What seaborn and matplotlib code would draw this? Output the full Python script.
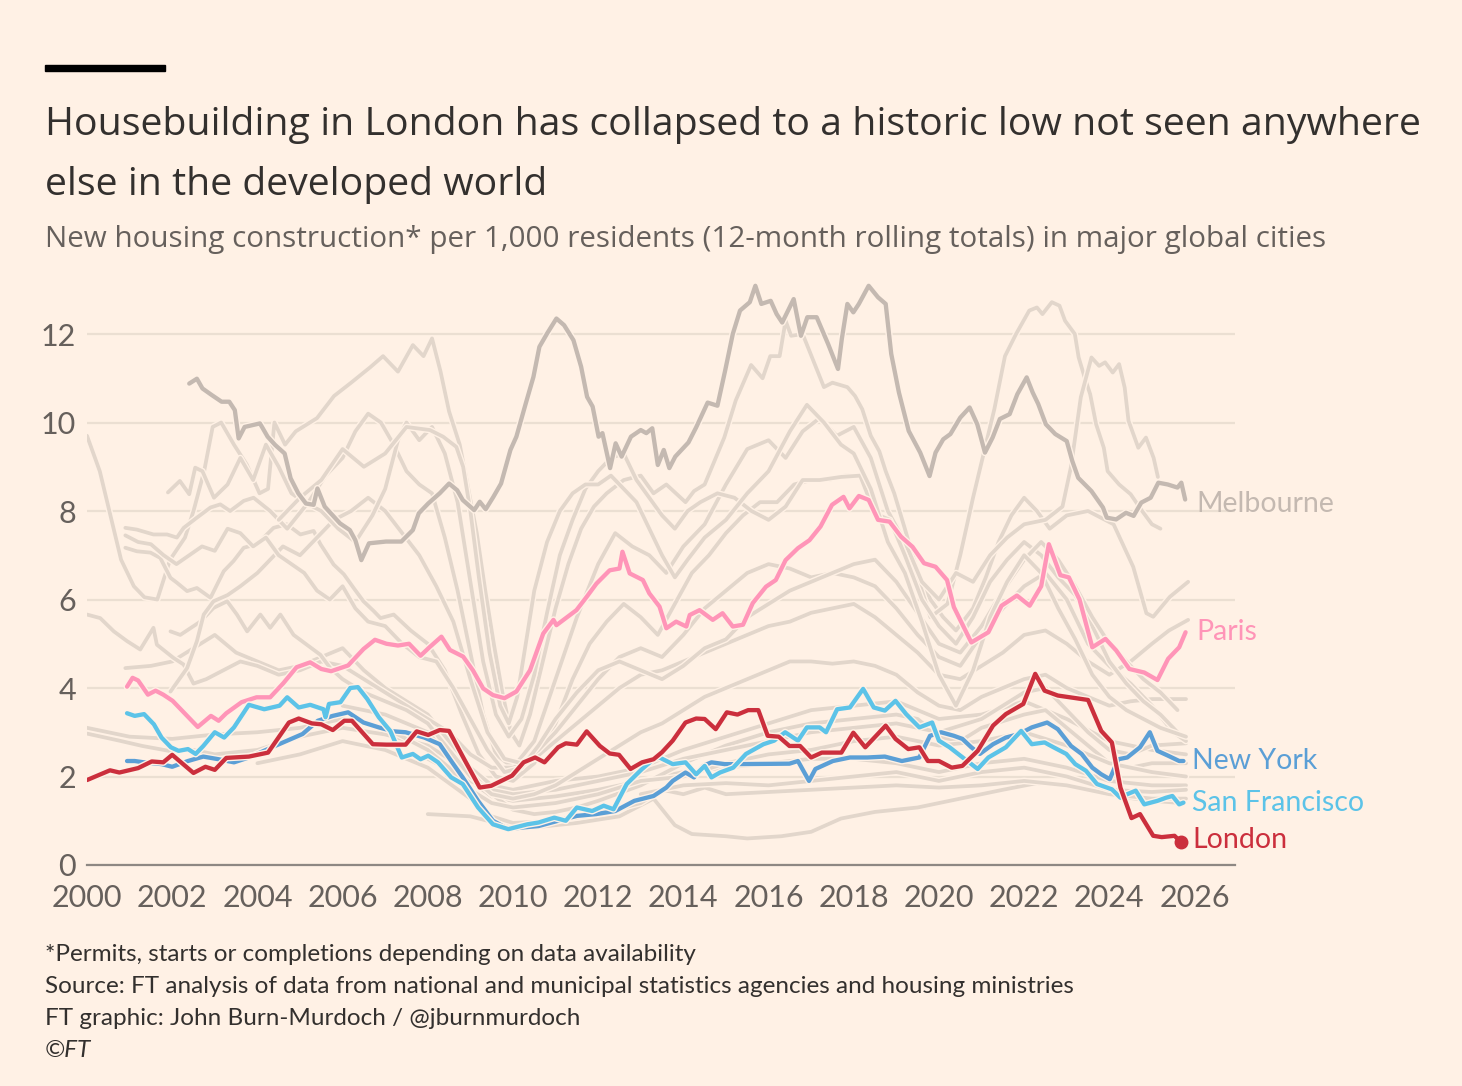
import pandas as pd
import seaborn as sns
import matplotlib.pyplot as plt
import matplotlib.patheffects as pe
from matplotlib.patches import Rectangle

# ---- data: (year, homes per 1,000 residents) ----
london = [
    (2000.0, 1.92), (2000.54, 2.14), (2000.76, 2.09), (2001.2, 2.19), (2001.52, 2.34),
    (2001.79, 2.32), (2002.0, 2.49), (2002.5, 2.08), (2002.78, 2.22), (2003.0, 2.15),
    (2003.27, 2.42), (2003.8, 2.45), (2004.25, 2.54), (2004.74, 3.22), (2004.97, 3.31),
    (2005.28, 3.2), (2005.5, 3.18), (2005.77, 3.05), (2006.04, 3.26), (2006.22, 3.26),
    (2006.71, 2.73), (2007.03, 2.72), (2007.48, 2.72), (2007.74, 3.02), (2008.01, 2.94),
    (2008.28, 3.05), (2008.5, 3.03), (2008.85, 2.4), (2009.22, 1.75), (2009.49, 1.79),
    (2009.98, 2.02), (2010.25, 2.32), (2010.52, 2.43), (2010.74, 2.32), (2011.06, 2.66),
    (2011.24, 2.75), (2011.5, 2.72), (2011.73, 3.02), (2012.04, 2.69), (2012.27, 2.52),
    (2012.49, 2.49), (2012.76, 2.17), (2013.03, 2.32), (2013.3, 2.39), (2013.5, 2.55),
    (2013.75, 2.81), (2014.05, 3.22), (2014.3, 3.31), (2014.5, 3.3), (2014.76, 3.07),
    (2015.02, 3.45), (2015.27, 3.4), (2015.52, 3.5), (2015.76, 3.5), (2015.98, 2.92),
    (2016.24, 2.9), (2016.49, 2.69), (2016.74, 2.69), (2017.0, 2.43), (2017.25, 2.54),
    (2017.71, 2.54), (2017.99, 2.99), (2018.27, 2.66), (2018.75, 3.15), (2018.98, 2.85),
    (2019.28, 2.62), (2019.54, 2.66), (2019.74, 2.35), (2020.0, 2.35), (2020.3, 2.2),
    (2020.55, 2.24), (2020.91, 2.58), (2021.27, 3.15), (2021.57, 3.41), (2021.98, 3.64),
    (2022.26, 4.32), (2022.48, 3.94), (2022.79, 3.83), (2023.5, 3.73), (2023.81, 3.03),
    (2024.06, 2.77), (2024.26, 1.75), (2024.52, 1.06), (2024.72, 1.15), (2025.03, 0.66),
    (2025.23, 0.63), (2025.53, 0.66), (2025.69, 0.51),
]

paris = [
    (2000.94, 4.03), (2001.07, 4.23), (2001.2, 4.17), (2001.43, 3.85), (2001.61, 3.94),
    (2001.79, 3.85), (2002.01, 3.71), (2002.37, 3.35), (2002.6, 3.12), (2002.91, 3.37),
    (2003.09, 3.26), (2003.27, 3.43), (2003.63, 3.68), (2003.98, 3.79), (2004.3, 3.79),
    (2004.61, 4.11), (2004.92, 4.47), (2005.24, 4.58), (2005.5, 4.43), (2005.73, 4.38),
    (2006.13, 4.51), (2006.49, 4.88), (2006.76, 5.09), (2007.03, 5.0), (2007.3, 4.96),
    (2007.56, 5.0), (2007.83, 4.73), (2008.05, 4.93), (2008.32, 5.16), (2008.52, 4.86),
    (2008.83, 4.71), (2009.06, 4.4), (2009.3, 3.99), (2009.53, 3.84), (2009.8, 3.77),
    (2010.08, 3.92), (2010.4, 4.4), (2010.71, 5.23), (2010.95, 5.54), (2011.02, 5.42),
    (2011.49, 5.76), (2011.73, 6.06), (2011.96, 6.36), (2012.27, 6.66), (2012.5, 6.7),
    (2012.57, 7.08), (2012.74, 6.59), (2013.05, 6.44), (2013.2, 6.14), (2013.44, 5.84),
    (2013.6, 5.35), (2013.83, 5.5), (2014.07, 5.39), (2014.15, 5.65), (2014.38, 5.76),
    (2014.69, 5.54), (2014.92, 5.69), (2015.16, 5.39), (2015.4, 5.43), (2015.63, 5.92),
    (2015.94, 6.29), (2016.17, 6.44), (2016.4, 6.89), (2016.69, 7.16), (2016.96, 7.34),
    (2017.22, 7.65), (2017.49, 8.14), (2017.76, 8.32), (2017.9, 8.06), (2018.12, 8.34),
    (2018.35, 8.25), (2018.57, 7.8), (2018.84, 7.76), (2019.11, 7.42), (2019.38, 7.19),
    (2019.65, 6.82), (2019.92, 6.74), (2020.19, 6.44), (2020.35, 5.83), (2020.76, 5.03),
    (2021.16, 5.26), (2021.47, 5.86), (2021.83, 6.09), (2022.13, 5.86), (2022.4, 6.3),
    (2022.58, 7.25), (2022.85, 6.55), (2023.05, 6.5), (2023.3, 6.0), (2023.6, 4.92),
    (2023.91, 5.11), (2024.16, 4.85), (2024.47, 4.43), (2024.82, 4.35), (2025.13, 4.18),
    (2025.38, 4.66), (2025.64, 4.92), (2025.79, 5.26),
]

new_york = [
    (2000.94, 2.35), (2001.12, 2.35), (2001.34, 2.32), (2001.75, 2.28), (2002.0, 2.22),
    (2002.37, 2.35), (2002.73, 2.45), (2003.09, 2.39), (2003.45, 2.32), (2003.8, 2.43),
    (2004.34, 2.66), (2004.7, 2.81), (2005.06, 2.96), (2005.42, 3.26), (2005.77, 3.37),
    (2006.13, 3.45), (2006.49, 3.22), (2006.85, 3.11), (2007.2, 3.02), (2007.48, 3.0),
    (2007.92, 2.88), (2008.28, 2.73), (2008.55, 2.35), (2008.82, 1.98), (2009.18, 1.45),
    (2009.53, 1.0), (2009.89, 0.81), (2010.25, 0.85), (2010.6, 0.88), (2011.06, 1.0),
    (2011.5, 1.11), (2011.95, 1.15), (2012.4, 1.22), (2012.85, 1.45), (2013.3, 1.56),
    (2013.6, 1.75), (2013.75, 1.9), (2014.05, 2.09), (2014.25, 1.98), (2014.46, 2.24),
    (2014.66, 2.32), (2014.97, 2.28), (2015.27, 2.28), (2016.49, 2.29), (2016.69, 2.35),
    (2016.95, 1.9), (2017.1, 2.17), (2017.51, 2.35), (2017.91, 2.43), (2018.32, 2.43),
    (2018.73, 2.45), (2019.13, 2.35), (2019.54, 2.43), (2019.79, 2.92), (2020.05, 3.0),
    (2020.35, 2.92), (2020.55, 2.85), (2020.76, 2.66), (2020.96, 2.51), (2021.27, 2.73),
    (2021.57, 2.88), (2021.88, 2.96), (2022.18, 3.11), (2022.54, 3.22), (2022.79, 3.07),
    (2023.1, 2.69), (2023.35, 2.51), (2023.6, 2.2), (2023.81, 2.05), (2024.01, 1.94),
    (2024.21, 2.39), (2024.42, 2.43), (2024.72, 2.66), (2024.95, 3.0), (2025.13, 2.58),
    (2025.38, 2.47), (2025.64, 2.35), (2025.74, 2.35),
]

san_francisco = [
    (2000.94, 3.43), (2001.12, 3.37), (2001.34, 3.41), (2001.57, 3.18), (2001.75, 2.88),
    (2001.97, 2.66), (2002.15, 2.58), (2002.37, 2.62), (2002.55, 2.51), (2002.73, 2.69),
    (2003.0, 3.0), (2003.22, 2.88), (2003.45, 3.11), (2003.8, 3.62), (2004.16, 3.52),
    (2004.52, 3.6), (2004.7, 3.79), (2004.97, 3.56), (2005.24, 3.62), (2005.55, 3.52),
    (2005.6, 3.34), (2005.68, 3.64), (2005.95, 3.68), (2006.18, 4.0), (2006.36, 4.02),
    (2006.58, 3.75), (2006.85, 3.34), (2007.12, 3.03), (2007.39, 2.43), (2007.65, 2.51),
    (2007.83, 2.39), (2008.01, 2.47), (2008.24, 2.32), (2008.55, 1.98), (2008.82, 1.83),
    (2009.18, 1.3), (2009.53, 0.92), (2009.89, 0.81), (2010.34, 0.92), (2010.6, 0.96),
    (2010.97, 1.07), (2011.24, 1.0), (2011.5, 1.3), (2011.86, 1.22), (2012.13, 1.34),
    (2012.36, 1.26), (2012.67, 1.83), (2013.03, 2.17), (2013.3, 2.39), (2013.44, 2.43),
    (2013.75, 2.28), (2014.05, 2.32), (2014.3, 2.05), (2014.5, 2.24), (2014.66, 1.98),
    (2014.86, 2.09), (2015.17, 2.2), (2015.47, 2.51), (2015.88, 2.73), (2016.13, 2.81),
    (2016.39, 3.0), (2016.69, 2.81), (2016.9, 3.11), (2017.2, 3.11), (2017.35, 3.0),
    (2017.61, 3.52), (2017.91, 3.56), (2018.22, 3.98), (2018.47, 3.56), (2018.73, 3.49),
    (2018.98, 3.71), (2019.23, 3.41), (2019.54, 3.11), (2019.84, 3.22), (2020.0, 2.81),
    (2020.25, 2.66), (2020.45, 2.51), (2020.91, 2.17), (2021.16, 2.43), (2021.57, 2.66),
    (2021.93, 3.03), (2022.18, 2.73), (2022.48, 2.77), (2022.69, 2.66), (2022.99, 2.51),
    (2023.2, 2.28), (2023.45, 2.13), (2023.71, 1.83), (2024.06, 1.71), (2024.26, 1.52),
    (2024.42, 1.6), (2024.62, 1.68), (2024.82, 1.37), (2025.13, 1.45), (2025.33, 1.52),
    (2025.48, 1.56), (2025.64, 1.37), (2025.74, 1.41),
]

melbourne = [
    (2002.4, 10.88), (2002.58, 10.99), (2002.71, 10.77), (2002.93, 10.62), (2003.16, 10.47),
    (2003.34, 10.47), (2003.47, 10.28), (2003.56, 9.64), (2003.7, 9.9), (2003.88, 9.94),
    (2004.06, 9.98), (2004.24, 9.68), (2004.42, 9.49), (2004.64, 9.3), (2004.78, 8.74),
    (2004.96, 8.4), (2005.14, 8.17), (2005.32, 8.14), (2005.41, 8.51), (2005.58, 8.1),
    (2005.94, 7.72), (2006.17, 7.57), (2006.3, 7.34), (2006.44, 6.89), (2006.62, 7.27),
    (2007.02, 7.31), (2007.38, 7.31), (2007.65, 7.57), (2007.79, 7.95), (2008.01, 8.17),
    (2008.28, 8.4), (2008.5, 8.62), (2008.69, 8.47), (2008.82, 8.25), (2009.09, 8.02),
    (2009.22, 8.21), (2009.36, 8.04), (2009.54, 8.32), (2009.72, 8.62), (2009.94, 9.38),
    (2010.08, 9.68), (2010.3, 10.43), (2010.48, 11.03), (2010.62, 11.71), (2010.8, 12.01),
    (2011.02, 12.35), (2011.2, 12.2), (2011.42, 11.86), (2011.6, 11.26), (2011.74, 10.58),
    (2011.87, 10.36), (2012.01, 9.68), (2012.1, 9.76), (2012.28, 8.97), (2012.41, 9.53),
    (2012.55, 9.23), (2012.77, 9.68), (2013.0, 9.83), (2013.13, 9.76), (2013.27, 9.87),
    (2013.4, 9.04), (2013.54, 9.38), (2013.67, 8.97), (2013.81, 9.23), (2014.12, 9.55),
    (2014.3, 9.89), (2014.57, 10.45), (2014.8, 10.38), (2014.98, 11.17), (2015.16, 12.0),
    (2015.33, 12.53), (2015.56, 12.72), (2015.69, 13.09), (2015.83, 12.68), (2016.05, 12.75),
    (2016.19, 12.45), (2016.32, 12.26), (2016.59, 12.79), (2016.76, 11.96), (2016.91, 12.38),
    (2017.13, 12.38), (2017.4, 11.77), (2017.63, 11.21), (2017.72, 11.89), (2017.85, 12.68),
    (2017.99, 12.49), (2018.12, 12.68), (2018.35, 13.09), (2018.57, 12.83), (2018.75, 12.68),
    (2018.88, 11.55), (2019.06, 10.68), (2019.29, 9.81), (2019.56, 9.32), (2019.78, 8.79),
    (2019.92, 9.32), (2020.1, 9.62), (2020.27, 9.74), (2020.5, 10.11), (2020.72, 10.34),
    (2020.9, 9.96), (2021.08, 9.32), (2021.26, 9.66), (2021.43, 10.08), (2021.66, 10.19),
    (2021.84, 10.64), (2022.06, 11.02), (2022.2, 10.68), (2022.33, 10.42), (2022.51, 9.96),
    (2022.73, 9.74), (2023.0, 9.58), (2023.13, 9.13), (2023.27, 8.75), (2023.58, 8.45),
    (2023.85, 8.08), (2023.94, 7.85), (2024.16, 7.81), (2024.39, 7.96), (2024.57, 7.89),
    (2024.75, 8.19), (2024.97, 8.3), (2025.15, 8.64), (2025.37, 8.6), (2025.6, 8.53),
    (2025.69, 8.64), (2025.78, 8.26),
]

# the other (unlabelled) cities, drawn in light grey behind
grey_01 = [
    (2000.0, 9.7), (2000.3, 8.9), (2000.55, 7.9), (2000.8, 6.9), (2001.1, 6.3), (2001.35, 6.05),
    (2001.65, 6.0), (2001.95, 6.9), (2002.3, 7.4), (2002.5, 8.0), (2002.75, 8.9), (2002.95, 9.9),
    (2003.15, 10.0), (2003.45, 9.5), (2003.75, 9.05), (2004.05, 8.4), (2004.25, 8.5), (2004.4, 10.0),
    (2004.65, 9.5), (2004.9, 9.8), (2005.4, 10.1), (2005.8, 10.6), (2006.2, 10.9), (2006.65, 11.25),
    (2006.95, 11.5), (2007.3, 11.15), (2007.65, 11.75), (2007.9, 11.5), (2008.1, 11.9), (2008.3, 11.15),
    (2008.5, 10.25), (2008.75, 9.5), (2008.95, 8.5), (2009.15, 7.5), (2009.35, 6.2), (2009.55, 5.0),
    (2009.75, 3.9), (2009.95, 3.0), (2010.15, 2.7), (2010.4, 3.4), (2010.7, 4.6), (2011.0, 5.8),
    (2011.3, 6.8), (2011.6, 7.6), (2011.9, 8.1), (2012.2, 8.4), (2012.6, 8.7), (2013.0, 8.8),
    (2013.3, 8.4), (2013.6, 8.6), (2014.05, 8.2), (2014.25, 8.45), (2014.5, 8.6), (2014.96, 9.66),
    (2015.23, 10.5), (2015.59, 11.3), (2015.86, 11.0), (2016.04, 11.5), (2016.26, 11.5), (2016.4, 12.3),
    (2016.53, 11.96), (2016.8, 12.0), (2017.05, 11.4), (2017.3, 10.8), (2017.5, 10.9), (2017.85, 10.8),
    (2018.03, 10.6), (2018.2, 10.3), (2018.4, 9.7), (2018.6, 9.35), (2018.75, 8.9), (2018.95, 8.4),
    (2019.2, 7.6), (2019.5, 6.6), (2019.8, 6.0), (2020.1, 5.6), (2020.4, 5.3), (2020.8, 5.8),
    (2021.1, 6.5), (2021.4, 7.3), (2021.7, 7.9), (2022.0, 8.3), (2022.3, 8.0), (2022.6, 7.6),
    (2023.0, 7.9), (2023.5, 8.0), (2024.1, 7.7), (2024.56, 6.74), (2024.87, 5.69), (2025.03, 5.61),
    (2025.42, 6.06), (2025.85, 6.4),
]
grey_02 = [
    (2000.9, 7.17), (2001.17, 7.09), (2001.49, 7.06), (2001.72, 6.94), (2001.96, 6.49), (2002.11, 6.38),
    (2002.35, 6.19), (2002.58, 6.26), (2002.9, 6.04), (2003.21, 6.64), (2003.44, 6.87), (2003.68, 7.17),
    (2003.99, 7.25), (2004.38, 7.62), (2004.69, 7.7), (2005.01, 7.47), (2005.32, 7.55), (2005.48, 7.25),
    (2005.79, 6.79), (2006.03, 6.57), (2006.26, 6.26), (2006.49, 5.96), (2006.73, 5.74), (2006.89, 5.58),
    (2007.2, 5.66), (2007.6, 5.3), (2008.0, 5.0), (2008.4, 4.4), (2008.8, 3.4), (2009.2, 2.5),
    (2009.6, 2.0), (2010.0, 1.9), (2010.5, 2.3), (2011.0, 3.2), (2011.4, 4.2), (2011.8, 5.0),
    (2012.2, 5.5), (2012.6, 5.9), (2013.0, 5.6), (2013.4, 5.2), (2013.8, 5.9), (2014.2, 6.6),
    (2014.6, 7.0), (2015.0, 7.5), (2015.4, 7.9), (2015.8, 8.2), (2016.2, 8.2), (2016.6, 8.6),
    (2017.0, 8.7), (2017.4, 8.7), (2017.8, 8.8), (2018.2, 8.8), (2018.6, 7.9), (2019.0, 7.7),
    (2019.4, 6.8), (2019.8, 5.6), (2020.2, 5.9), (2020.5, 7.0), (2020.8, 8.3), (2021.1, 9.5),
    (2021.3, 10.3), (2021.55, 11.5), (2021.81, 12.0), (2022.12, 12.53), (2022.3, 12.6), (2022.43, 12.45),
    (2022.65, 12.72), (2022.83, 12.64), (2022.96, 12.3), (2023.19, 12.0), (2023.28, 11.47), (2023.42, 11.02),
    (2023.55, 10.64), (2023.69, 9.96), (2023.87, 9.43), (2023.96, 8.9), (2024.23, 8.6), (2024.5, 8.38),
    (2024.77, 8.0), (2025.0, 7.7), (2025.2, 7.6),
]
grey_03 = [
    (2000.9, 7.62), (2001.17, 7.58), (2001.56, 7.47), (2001.88, 7.47), (2002.11, 7.4), (2002.27, 7.62),
    (2002.58, 7.85), (2002.9, 8.08), (2003.13, 8.15), (2003.36, 8.0), (2003.68, 8.23), (2003.91, 8.3),
    (2004.3, 8.0), (2004.7, 7.6), (2005.2, 8.2), (2005.6, 8.8), (2006.0, 9.2), (2006.3, 9.8),
    (2006.6, 10.2), (2006.9, 10.0), (2007.2, 9.5), (2007.5, 8.9), (2007.8, 8.6), (2008.1, 8.4),
    (2008.4, 7.4), (2008.7, 6.2), (2009.0, 4.8), (2009.3, 3.4), (2009.6, 2.5), (2010.0, 2.2),
    (2010.5, 2.8), (2011.0, 4.2), (2011.5, 5.6), (2012.0, 6.8), (2012.4, 7.5), (2012.8, 7.2),
    (2013.2, 7.0), (2013.6, 6.6), (2014.0, 7.2), (2014.5, 7.7), (2015.0, 8.6), (2015.5, 9.4),
    (2016.0, 9.6), (2016.4, 9.2), (2016.8, 9.8), (2017.2, 10.1), (2017.6, 9.7), (2018.0, 9.9),
    (2018.4, 9.2), (2018.8, 8.0), (2019.2, 7.3), (2019.6, 6.4), (2020.0, 6.0), (2020.4, 6.6),
    (2020.8, 6.4), (2021.2, 7.0), (2021.6, 7.4), (2022.0, 7.7), (2022.5, 7.8), (2022.9, 8.1),
    (2023.1, 9.0), (2023.33, 10.57), (2023.58, 11.47), (2023.76, 11.28), (2023.9, 11.36), (2024.08, 11.13),
    (2024.23, 11.32), (2024.36, 10.79), (2024.45, 10.04), (2024.68, 9.43), (2024.86, 9.66), (2025.04, 9.2),
    (2025.14, 8.77),
]
grey_04 = [
    (2000.0, 5.66), (2000.31, 5.58), (2000.63, 5.28), (2000.94, 5.06), (2001.25, 4.87), (2001.56, 5.36),
    (2001.64, 4.98), (2002.03, 4.68), (2002.27, 4.53), (2002.5, 4.1), (2002.8, 4.2), (2003.2, 4.4),
    (2003.6, 4.6), (2004.0, 4.5), (2004.5, 4.3), (2005.0, 4.4), (2005.5, 4.6), (2006.0, 4.5),
    (2006.5, 4.2), (2007.0, 3.9), (2007.5, 3.6), (2008.0, 3.3), (2008.5, 3.0), (2009.0, 2.5),
    (2009.5, 2.2), (2010.0, 2.2), (2010.5, 2.4), (2011.0, 2.8), (2011.5, 3.2), (2012.0, 3.6),
    (2012.5, 4.0), (2013.0, 4.3), (2013.5, 4.4), (2014.0, 4.6), (2014.5, 4.8), (2015.0, 5.0),
    (2015.5, 5.2), (2016.0, 5.4), (2016.5, 5.5), (2017.0, 5.7), (2017.5, 5.8), (2018.0, 5.9),
    (2018.5, 5.6), (2019.0, 5.2), (2019.5, 4.8), (2020.0, 4.3), (2020.5, 4.2), (2021.0, 4.5),
    (2021.5, 4.8), (2022.0, 5.2), (2022.5, 5.3), (2023.0, 5.0), (2023.5, 4.6), (2024.0, 4.3),
    (2024.5, 4.6), (2025.0, 5.0), (2025.4, 5.3), (2025.85, 5.54),
]
grey_05 = [
    (2001.96, 5.28), (2002.19, 5.2), (2002.66, 5.5), (2002.97, 5.81), (2003.29, 5.96), (2003.52, 5.66),
    (2003.76, 5.28), (2004.07, 5.66), (2004.3, 5.36), (2004.54, 5.66), (2004.85, 5.2), (2005.48, 4.75),
    (2005.71, 4.45), (2006.0, 4.2), (2006.5, 3.9), (2007.0, 3.7), (2007.5, 3.5), (2008.0, 3.2),
    (2008.5, 2.6), (2009.0, 2.0), (2009.5, 1.6), (2010.0, 1.5), (2010.5, 1.6), (2011.0, 1.8),
    (2011.5, 2.1), (2012.0, 2.4), (2012.5, 2.7), (2013.0, 3.0), (2013.5, 3.2), (2014.0, 3.5),
    (2014.5, 3.8), (2015.0, 4.0), (2015.5, 4.2), (2016.0, 4.4), (2016.5, 4.6), (2017.0, 4.6),
    (2017.5, 4.55), (2018.0, 4.6), (2018.5, 4.5), (2019.0, 4.3), (2019.5, 3.9), (2020.0, 3.6),
    (2020.5, 3.5), (2021.0, 3.8), (2021.5, 4.0), (2022.0, 4.2), (2022.5, 4.3), (2023.0, 4.0),
    (2023.5, 3.8), (2024.0, 3.6), (2024.5, 3.7), (2025.0, 3.75), (2025.8, 3.75),
]
grey_06 = [
    (2001.96, 3.92), (2002.35, 4.45), (2002.58, 5.06), (2002.74, 5.66), (2002.97, 5.96), (2003.3, 6.1),
    (2003.6, 6.3), (2004.0, 6.6), (2004.3, 6.9), (2004.6, 7.2), (2005.0, 7.0), (2005.4, 7.4),
    (2005.8, 7.8), (2006.2, 8.0), (2006.6, 8.3), (2007.0, 8.0), (2007.4, 7.5), (2007.8, 7.0),
    (2008.2, 6.3), (2008.6, 5.5), (2009.0, 4.2), (2009.4, 3.0), (2009.8, 2.4), (2010.2, 2.3),
    (2010.6, 2.6), (2011.0, 3.0), (2011.5, 3.6), (2012.0, 4.2), (2012.5, 4.7), (2013.0, 4.9),
    (2013.5, 4.7), (2014.0, 5.2), (2014.5, 5.8), (2015.0, 6.2), (2015.5, 6.6), (2016.0, 6.8),
    (2016.5, 6.7), (2017.0, 6.5), (2017.5, 6.6), (2018.0, 6.5), (2018.5, 6.3), (2019.0, 5.8),
    (2019.5, 5.2), (2020.0, 4.7), (2020.5, 4.5), (2021.0, 5.2), (2021.5, 5.8), (2022.0, 6.3),
    (2022.5, 6.6), (2023.0, 6.0), (2023.5, 5.0), (2024.0, 4.5), (2024.5, 4.1), (2025.0, 3.6),
    (2025.5, 3.0), (2025.8, 2.8),
]
grey_07 = [
    (2001.9, 8.42), (2002.18, 8.68), (2002.4, 8.38), (2002.54, 8.98), (2002.71, 8.9), (2002.98, 8.3),
    (2003.3, 8.6), (2003.6, 9.2), (2003.9, 8.7), (2004.2, 9.5), (2004.5, 9.0), (2004.8, 8.4),
    (2005.1, 8.2), (2005.5, 8.0), (2005.9, 7.6), (2006.3, 7.3), (2006.7, 7.9), (2007.0, 8.5),
    (2007.3, 9.6), (2007.5, 10.0), (2007.8, 9.6), (2008.1, 9.9), (2008.4, 9.3), (2008.7, 8.2),
    (2009.0, 6.4), (2009.3, 4.6), (2009.6, 3.4), (2009.9, 2.9), (2010.2, 3.3), (2010.5, 4.3),
    (2010.8, 5.7), (2011.1, 7.0), (2011.4, 7.8), (2011.7, 8.5), (2012.0, 8.9), (2012.3, 9.2),
    (2012.6, 9.3), (2012.9, 8.7), (2013.2, 8.3), (2013.5, 7.9), (2013.8, 7.6), (2014.1, 8.0),
    (2014.4, 8.2), (2014.8, 8.4), (2015.2, 8.3), (2015.6, 8.0), (2016.0, 7.8), (2016.4, 8.1),
    (2016.8, 8.7), (2017.2, 8.7), (2017.7, 8.77), (2018.15, 8.8), (2018.5, 7.94), (2018.85, 7.8),
    (2019.2, 7.0), (2019.6, 6.0), (2020.0, 5.4), (2020.4, 5.0), (2020.8, 5.6), (2021.2, 6.4),
    (2021.6, 6.9), (2022.0, 7.3), (2022.4, 7.0), (2022.8, 6.5), (2023.2, 6.1), (2023.6, 5.4),
    (2024.0, 4.6), (2024.4, 4.1), (2024.8, 3.7), (2025.2, 3.4), (2025.6, 3.0),
]
grey_08 = [
    (2000.9, 7.45), (2001.2, 7.3), (2001.5, 7.25), (2001.8, 7.0), (2002.1, 6.8), (2002.4, 7.0),
    (2002.7, 7.2), (2003.0, 7.1), (2003.3, 7.6), (2003.6, 7.5), (2003.9, 7.2), (2004.2, 7.4),
    (2004.5, 7.0), (2004.8, 6.8), (2005.1, 6.6), (2005.4, 6.2), (2005.7, 6.0), (2006.0, 6.3),
    (2006.3, 5.8), (2006.6, 5.5), (2007.0, 5.4), (2007.4, 5.0), (2007.8, 4.7), (2008.2, 4.6),
    (2008.6, 4.0), (2009.0, 3.3), (2009.4, 2.6), (2009.8, 2.1), (2010.2, 2.2), (2010.6, 2.7),
    (2011.0, 3.3), (2011.5, 3.9), (2012.0, 4.4), (2012.5, 4.6), (2013.0, 4.4), (2013.5, 4.2),
    (2014.0, 4.5), (2014.5, 4.9), (2015.0, 5.1), (2015.5, 5.6), (2016.0, 5.9), (2016.5, 6.2),
    (2017.0, 6.4), (2017.5, 6.6), (2018.0, 6.8), (2018.5, 6.9), (2019.0, 6.4), (2019.5, 5.7),
    (2020.0, 5.0), (2020.5, 4.8), (2021.0, 5.4), (2021.5, 6.2), (2022.0, 6.9), (2022.4, 7.3),
    (2022.8, 6.9), (2023.2, 6.3), (2023.6, 5.6), (2024.0, 5.0), (2024.4, 4.6), (2024.8, 4.2),
    (2025.2, 3.9), (2025.6, 3.5),
]
grey_09 = [
    (2004.5, 7.8), (2005.0, 8.3), (2005.5, 8.7), (2006.0, 9.4), (2006.5, 9.0), (2007.0, 9.3),
    (2007.5, 9.9), (2008.05, 9.83), (2008.36, 9.68), (2008.67, 9.45), (2008.83, 9.0), (2009.0, 8.0),
    (2009.2, 6.5), (2009.45, 4.8), (2009.7, 3.6), (2009.9, 3.2), (2010.1, 3.8), (2010.3, 5.0),
    (2010.5, 6.2), (2010.8, 7.3), (2011.1, 8.0), (2011.4, 8.4), (2011.7, 8.6), (2012.0, 8.6),
    (2012.3, 8.8), (2012.6, 8.5), (2012.9, 8.2), (2013.2, 7.6), (2013.5, 7.0), (2013.8, 6.5),
    (2014.1, 6.9), (2014.5, 7.4), (2015.0, 7.8), (2015.5, 8.4), (2016.0, 8.9), (2016.5, 9.8),
    (2016.9, 10.4), (2017.3, 10.0), (2017.7, 9.5), (2018.0, 9.3), (2018.4, 8.5), (2018.8, 7.3),
    (2019.2, 6.6), (2019.6, 5.5), (2020.0, 4.3), (2020.4, 3.6), (2020.8, 4.4), (2021.2, 5.6),
    (2021.6, 6.4), (2022.0, 7.0), (2022.4, 6.6), (2022.8, 5.8), (2023.2, 5.1), (2023.6, 4.3),
    (2024.0, 3.8), (2024.4, 3.5), (2024.8, 3.3), (2025.2, 3.1), (2025.8, 2.9),
]
grey_10 = [
    (2000.0, 3.1), (2001.0, 2.9), (2002.0, 2.85), (2003.0, 2.95), (2004.0, 3.0), (2005.0, 3.1),
    (2006.0, 3.3), (2007.0, 3.1), (2008.0, 2.6), (2008.5, 2.2), (2009.0, 1.7), (2009.5, 1.4),
    (2010.0, 1.3), (2011.0, 1.4), (2012.0, 1.6), (2013.0, 1.9), (2014.0, 2.0), (2015.0, 2.3),
    (2016.0, 2.5), (2017.0, 2.6), (2018.0, 2.8), (2019.0, 2.9), (2020.0, 2.7), (2021.0, 2.8),
    (2022.0, 3.0), (2023.0, 2.7), (2024.0, 2.3), (2025.0, 2.1), (2025.8, 2.0),
]
grey_11 = [
    (2000.0, 2.97), (2000.76, 2.81), (2001.3, 2.69), (2001.92, 2.58), (2002.5, 2.6), (2003.0, 2.5),
    (2004.0, 2.6), (2005.0, 2.9), (2006.0, 3.1), (2007.0, 2.95), (2008.0, 2.7), (2008.5, 2.4),
    (2009.0, 1.9), (2009.5, 1.55), (2010.0, 1.45), (2011.0, 1.55), (2012.0, 1.7), (2013.0, 1.9),
    (2014.0, 2.1), (2015.0, 2.2), (2016.0, 2.3), (2017.0, 2.4), (2018.0, 2.4), (2019.0, 2.3),
    (2020.0, 2.1), (2021.0, 2.3), (2022.0, 2.4), (2023.0, 2.2), (2024.0, 1.9), (2025.0, 1.8),
    (2025.8, 1.8),
]
grey_12 = [
    (2000.9, 4.45), (2001.5, 4.5), (2002.0, 4.6), (2002.5, 4.9), (2003.0, 5.2), (2003.5, 4.8),
    (2004.0, 4.6), (2004.5, 4.4), (2005.0, 4.5), (2005.5, 4.7), (2006.0, 4.9), (2006.5, 4.4),
    (2007.0, 4.0), (2007.5, 3.7), (2008.0, 3.4), (2008.5, 2.8), (2009.0, 2.2), (2009.5, 1.8),
    (2010.0, 1.7), (2010.5, 1.8), (2011.0, 1.9), (2012.0, 2.0), (2013.0, 2.2), (2014.0, 2.6),
    (2015.0, 2.9), (2016.0, 3.2), (2017.0, 3.5), (2018.0, 3.6), (2019.0, 3.7), (2020.0, 3.3),
    (2021.0, 3.4), (2022.0, 3.7), (2023.0, 3.3), (2024.0, 2.8), (2025.0, 2.6), (2025.8, 2.5),
]
grey_13 = [
    (2008.0, 1.15), (2009.0, 1.1), (2009.8, 0.9), (2010.5, 0.85), (2011.5, 0.95), (2012.5, 1.1),
    (2013.3, 1.5), (2013.8, 0.9), (2014.2, 0.7), (2015.0, 0.65), (2015.5, 0.6), (2016.3, 0.65),
    (2017.0, 0.75), (2017.7, 1.05), (2018.5, 1.2), (2019.5, 1.3), (2020.5, 1.5), (2021.5, 1.7),
    (2022.3, 1.85), (2023.0, 1.8), (2023.7, 1.65), (2024.2, 1.55), (2025.0, 1.45), (2025.7, 1.4),
]
grey_14 = [
    (2004.0, 2.3), (2005.0, 2.5), (2006.0, 2.8), (2007.0, 2.6), (2008.0, 2.2), (2009.0, 1.5),
    (2009.5, 1.1), (2010.0, 0.95), (2011.0, 1.0), (2012.0, 1.15), (2013.0, 1.4), (2013.5, 1.7),
    (2014.0, 1.6), (2014.5, 1.75), (2015.0, 1.6), (2016.0, 1.65), (2017.0, 1.7), (2018.0, 1.75),
    (2019.0, 1.8), (2020.0, 1.75), (2021.0, 1.8), (2022.0, 1.9), (2023.0, 1.8), (2024.0, 1.6),
    (2025.0, 1.5), (2025.8, 1.5),
]
grey_15 = [
    (2006.0, 3.6), (2007.0, 3.4), (2008.0, 3.0), (2008.5, 2.6), (2009.0, 2.1), (2009.5, 1.6),
    (2010.0, 1.25), (2010.5, 1.15), (2011.0, 1.2), (2011.5, 1.3), (2012.0, 1.45), (2013.0, 1.8),
    (2014.0, 2.3), (2015.0, 2.7), (2016.0, 3.0), (2017.0, 3.2), (2018.0, 3.3), (2019.0, 3.4),
    (2019.5, 3.3), (2020.0, 2.9), (2020.5, 2.8), (2021.0, 3.1), (2022.0, 3.4), (2022.5, 3.5),
    (2023.0, 3.1), (2023.5, 2.7), (2024.0, 2.3), (2024.5, 2.2), (2025.0, 2.3), (2025.8, 2.3),
]
grey_16 = [
    (2008.0, 2.4), (2009.0, 1.9), (2009.5, 1.7), (2010.0, 1.6), (2011.0, 1.7), (2012.0, 1.9),
    (2013.0, 2.1), (2014.0, 2.4), (2015.0, 2.6), (2016.0, 2.8), (2017.0, 3.0), (2018.0, 3.1),
    (2019.0, 3.2), (2020.0, 3.0), (2021.0, 3.3), (2022.0, 3.9), (2022.5, 4.0), (2023.0, 3.5),
    (2023.5, 3.0), (2024.0, 2.6), (2024.5, 2.5), (2025.0, 2.7), (2025.8, 2.75),
]
grey_17 = [
    (2013.0, 1.6), (2014.0, 1.8), (2015.0, 1.85), (2016.0, 1.8), (2017.0, 1.9), (2018.0, 2.0),
    (2019.0, 2.1), (2020.0, 1.9), (2021.0, 2.1), (2022.0, 2.2), (2023.0, 2.0), (2024.0, 1.7),
    (2025.0, 1.65), (2025.8, 1.7),
]

grey_lines = [grey_01, grey_02, grey_03, grey_04, grey_05, grey_06, grey_07, grey_08, grey_09,
              grey_10, grey_11, grey_12, grey_13, grey_14, grey_15, grey_16, grey_17]

year_ticks = list(range(2000, 2027, 2))
value_ticks = [0, 2, 4, 6, 8, 10, 12]

# ---- styling ----
BG = "#fff1e5"
GREY = "#e2d6cb"
TEXT = "#33302e"
MUTED = "#66605c"
COLOURS = {
    "Melbourne": "#c4b9b1",
    "Paris": "#ff95b8",
    "New York": "#5b9fd6",
    "San Francisco": "#5cc3e8",
    "London": "#cb2f3d",
}
LABEL_Y = {"Melbourne": 8.15, "Paris": 5.27, "New York": 2.35, "San Francisco": 1.4, "London": 0.56}
LABEL_X = {"Melbourne": 2026.05, "Paris": 2026.05, "New York": 2025.95,
           "San Francisco": 2025.95, "London": 2025.95}


def to_frame(points, name):
    df = pd.DataFrame(points, columns=["year", "value"])
    df["city"] = name
    return df


def halo(width):
    return [pe.Stroke(linewidth=width + 2.0, foreground=BG), pe.Normal()]


sns.set_theme(style="white")
plt.rcParams["font.family"] = ["Lato", "DejaVu Sans"]

fig = plt.figure(figsize=(14.62, 10.86), dpi=100, facecolor=BG)
ax = fig.add_axes([87 / 1462, 1 - 865 / 1086, (1235 - 87) / 1462, (865 - 276.5) / 1086])
ax.set_facecolor(BG)

# background cities
grey_df = pd.concat([to_frame(pts, f"g{i}") for i, pts in enumerate(grey_lines)], ignore_index=True)
sns.lineplot(data=grey_df, x="year", y="value", units="city", estimator=None, color=GREY,
             linewidth=2.7, path_effects=halo(2.7), ax=ax, legend=False, zorder=2)

# highlighted cities
highlights = [("Melbourne", melbourne), ("Paris", paris), ("New York", new_york),
              ("San Francisco", san_francisco), ("London", london)]
for i, (name, pts) in enumerate(highlights):
    sns.lineplot(data=to_frame(pts, name), x="year", y="value", color=COLOURS[name],
                 linewidth=3.1, path_effects=halo(3.1), ax=ax, legend=False, zorder=3 + i)
    ax.text(LABEL_X[name], LABEL_Y[name], name, color=COLOURS[name], fontsize=20.5,
            va="center", ha="left", clip_on=False)

# London end marker
ax.plot([london[-1][0]], [london[-1][1]], "o", color=COLOURS["London"], markersize=9,
        zorder=10, clip_on=False)

# axes
ax.set_xlim(2000, 2026.95)
ax.set_ylim(0, 13.3)
ax.set_xticks(year_ticks)
ax.set_yticks(value_ticks)
ax.set_xlabel("")
ax.set_ylabel("")
ax.grid(axis="y", color="#ebdfd2", linewidth=1.6, zorder=0)
ax.set_axisbelow(True)
for side in ["top", "right", "left"]:
    ax.spines[side].set_visible(False)
ax.spines["bottom"].set_color("#8e8883")
ax.spines["bottom"].set_linewidth(1.6)
ax.spines["bottom"].set_zorder(12)
ax.tick_params(axis="x", direction="out", length=10, width=1.4, color="#8e8883",
               labelsize=22, labelcolor=MUTED, pad=4)
ax.tick_params(axis="y", length=0, labelsize=22, labelcolor=MUTED, pad=8)

# header and footer
fig.patches.append(Rectangle((45 / 1462, 1 - 71 / 1086), 120 / 1462, 6 / 1086,
                             transform=fig.transFigure, color="black", zorder=5))
title_font = ["Open Sans", "DejaVu Sans"]
fig.text(45 / 1462, 1 - 135 / 1086,
         "Housebuilding in London has collapsed to a historic low not seen anywhere",
         fontsize=28.3, color=TEXT, family=title_font, va="baseline")
fig.text(45 / 1462, 1 - 195 / 1086, "else in the developed world",
         fontsize=28.3, color=TEXT, family=title_font, va="baseline")
fig.text(45 / 1462, 1 - 247 / 1086,
         "New housing construction* per 1,000 residents (12-month rolling totals) in major global cities",
         fontsize=21.3, color=MUTED, family=title_font, va="baseline")

footer = [
    "*Permits, starts or completions depending on data availability",
    "Source: FT analysis of data from national and municipal statistics agencies and housing ministries",
    "FT graphic: John Burn-Murdoch / @jburnmurdoch",
]
for i, line in enumerate(footer):
    fig.text(45 / 1462, 1 - (961 + 32 * i) / 1086, line, fontsize=17.5, color=TEXT,
             va="baseline")
fig.text(45 / 1462, 1 - 1057 / 1086, "©FT", fontsize=17.5, color=TEXT, style="italic",
         va="baseline")

fig.savefig("out.png", dpi=100, facecolor=BG)
